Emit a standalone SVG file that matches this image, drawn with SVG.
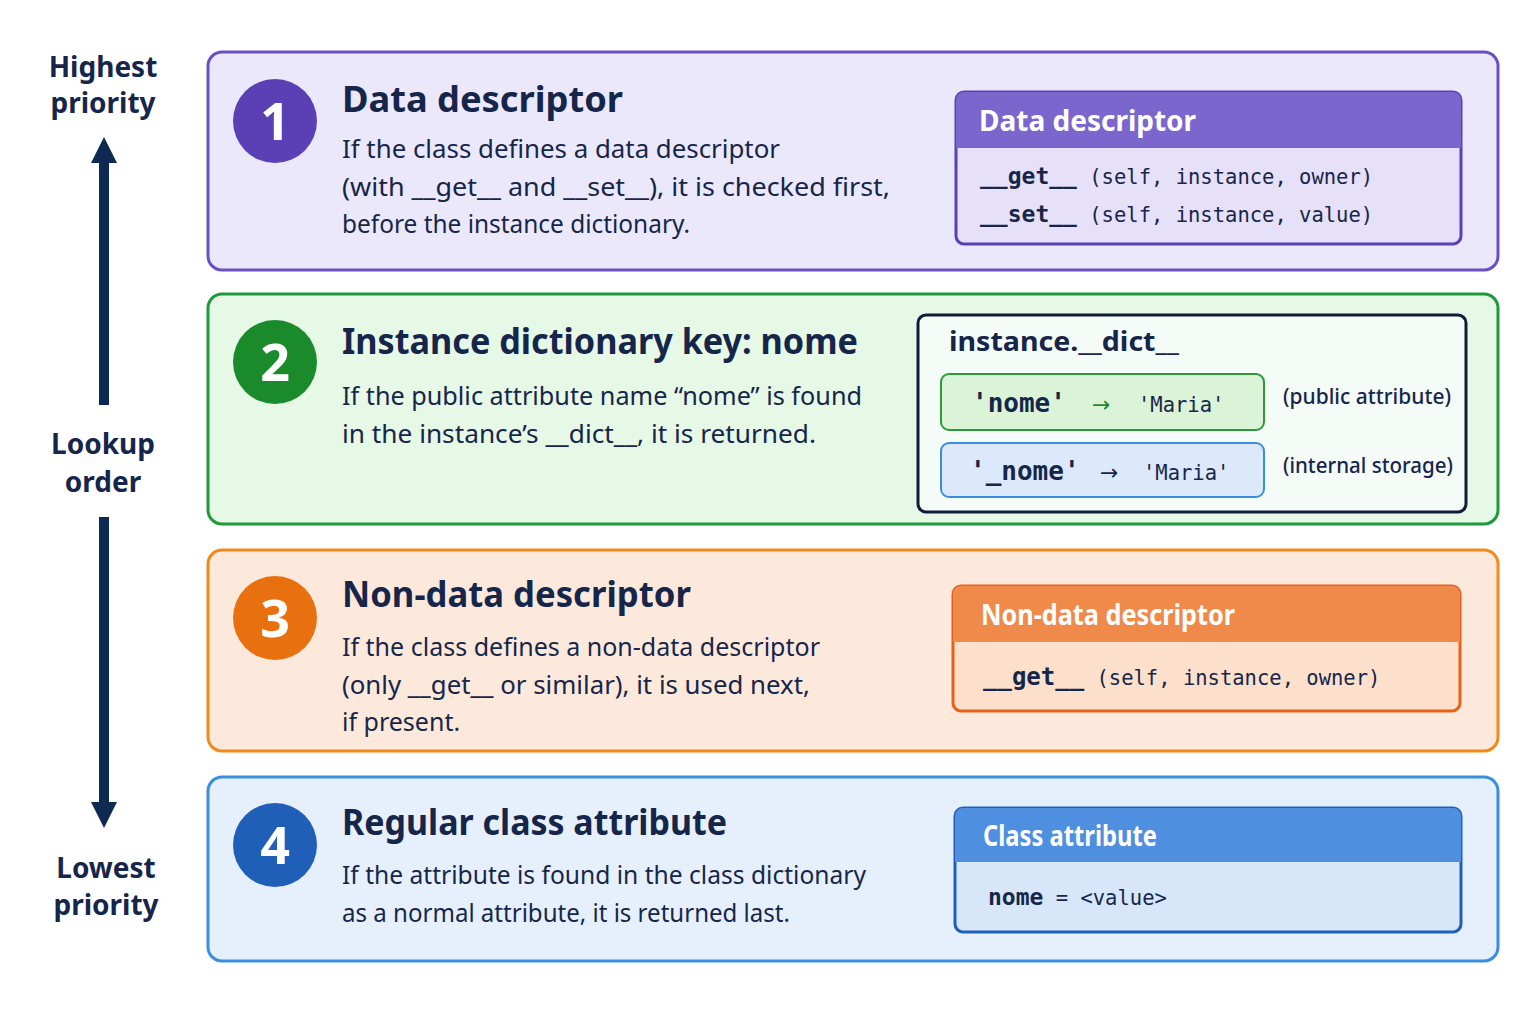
<svg xmlns="http://www.w3.org/2000/svg" width="1536" height="1024" viewBox="0 0 1536 1024">
<style>
text{font-family:"Noto Sans","Open Sans",sans-serif;fill:#16264a}
.t{font-size:36px;font-weight:700}
.b{font-size:25px}
.n{font-size:52px;font-weight:700;fill:#fff}
.h{font-size:28px;font-weight:700;fill:#fff}
.m{font-family:"DejaVu Sans Mono","Liberation Mono",monospace;font-size:20.5px}
.mb{font-family:"DejaVu Sans Mono","Liberation Mono",monospace;font-weight:700}
.ar{font-family:"DejaVu Sans",sans-serif;font-size:22px}
.l{font-size:28px;font-weight:700;text-anchor:middle}
</style>
<defs>
<marker id="ah" viewBox="0 0 10 10" refX="5" refY="5" markerWidth="2.6" markerHeight="2.6" orient="auto-start-reverse"><path d="M0,0L10,5L0,10z" fill="#0f2a52"/></marker>
</defs>
<rect width="1536" height="1024" fill="#fff"/>
<g id="axis">
<text class="l" x="103" y="77">Highest</text>
<text class="l" x="103" y="113">priority</text>
<text class="l" x="103" y="454">Lookup</text>
<text class="l" x="103" y="492">order</text>
<text class="l" x="106" y="878">Lowest</text>
<text class="l" x="106" y="915">priority</text>
</g>
<g id="connectors">
<line x1="104" y1="405" x2="104" y2="150" stroke="#0f2a52" stroke-width="10" marker-end="url(#ah)"/>
<line x1="104" y1="517" x2="104" y2="815" stroke="#0f2a52" stroke-width="10" marker-end="url(#ah)"/>
</g>
<g id="n1">
<rect x="208" y="52" width="1290" height="218" rx="14" fill="#ece8fb" stroke="#6a4fc0" stroke-width="3"/>
<circle cx="275" cy="121" r="42" fill="#5b3fb5"/>
<text class="n" x="275" y="140" text-anchor="middle">1</text>
<text class="t" x="342" y="112" textLength="281" lengthAdjust="spacingAndGlyphs">Data descriptor</text>
<text class="b" x="342" y="158" textLength="438" lengthAdjust="spacingAndGlyphs">If the class defines a data descriptor</text>
<text class="b" x="342" y="196" textLength="548" lengthAdjust="spacingAndGlyphs">(with __get__ and __set__), it is checked first,</text>
<text class="b" x="342" y="233" textLength="348" lengthAdjust="spacingAndGlyphs">before the instance dictionary.</text>
<rect x="956" y="92" width="505" height="152" rx="8" fill="#e6e0f8" stroke="#5b3fb5" stroke-width="3"/>
<path d="M956,148V100a8,8 0 0 1 8-8H1453a8,8 0 0 1 8,8V148z" fill="#7a66cc"/>
<text class="h" x="979" y="131">Data descriptor</text>
<text class="m" x="980" y="184"><tspan class="mb" font-size="23">__get__</tspan> (self, instance, owner)</text>
<text class="m" x="980" y="222"><tspan class="mb" font-size="23">__set__</tspan> (self, instance, value)</text>
</g>
<g id="n2">
<rect x="208" y="294" width="1290" height="230" rx="14" fill="#e6f8e6" stroke="#1f9a3a" stroke-width="3"/>
<circle cx="275" cy="362" r="42" fill="#1a8a2a"/>
<text class="n" x="275" y="381" text-anchor="middle">2</text>
<text class="t" x="342" y="354" textLength="516" lengthAdjust="spacingAndGlyphs">Instance dictionary key: nome</text>
<text class="b" x="342" y="405" textLength="520" lengthAdjust="spacingAndGlyphs">If the public attribute name “nome” is found</text>
<text class="b" x="342" y="443" textLength="474" lengthAdjust="spacingAndGlyphs">in the instance’s __dict__, it is returned.</text>
<rect x="918" y="315" width="548" height="197" rx="8" fill="#f5fbf7" stroke="#0f1d3a" stroke-width="3"/>
<text x="949" y="351" font-size="26" font-weight="700" textLength="230" lengthAdjust="spacingAndGlyphs">instance.__dict__</text>
<rect x="941" y="374" width="323" height="56" rx="8" fill="#dbf3d6" stroke="#2a9a3a" stroke-width="2"/>
<text class="m" x="972" y="412"><tspan class="mb" font-size="26">'nome'</tspan><tspan class="ar" x="1092" fill="#1f8a2a">→</tspan><tspan x="1138">'Maria'</tspan></text>
<text x="1283" y="404" font-size="21" font-weight="500" fill="#1a8a2a" textLength="168" lengthAdjust="spacingAndGlyphs">(public attribute)</text>
<rect x="941" y="443" width="323" height="54" rx="8" fill="#dce9fb" stroke="#3a8ee0" stroke-width="2"/>
<text class="m" x="970" y="480"><tspan class="mb" font-size="26">'_nome'</tspan><tspan class="ar" x="1100">→</tspan><tspan x="1143">'Maria'</tspan></text>
<text x="1283" y="473" font-size="21" font-weight="500" fill="#1a3ab0" textLength="170" lengthAdjust="spacingAndGlyphs">(internal storage)</text>
</g>
<g id="n3">
<rect x="208" y="550" width="1290" height="201" rx="14" fill="#fde9dc" stroke="#f08a1a" stroke-width="3"/>
<circle cx="275" cy="618" r="42" fill="#e8700f"/>
<text class="n" x="275" y="637" text-anchor="middle">3</text>
<text class="t" x="342" y="607" textLength="349" lengthAdjust="spacingAndGlyphs">Non-data descriptor</text>
<text class="b" x="342" y="656" textLength="478" lengthAdjust="spacingAndGlyphs">If the class defines a non-data descriptor</text>
<text class="b" x="342" y="694" textLength="468" lengthAdjust="spacingAndGlyphs">(only __get__ or similar), it is used next,</text>
<text class="b" x="342" y="731">if present.</text>
<rect x="953" y="586" width="507" height="125" rx="8" fill="#fde0cc" stroke="#e8601a" stroke-width="3"/>
<path d="M953,642V594a8,8 0 0 1 8-8H1452a8,8 0 0 1 8,8V642z" fill="#ef8a4a"/>
<text class="h" x="981" y="625" textLength="254" lengthAdjust="spacingAndGlyphs">Non-data descriptor</text>
<text class="m" x="983" y="685"><tspan class="mb" font-size="24">__get__</tspan> (self, instance, owner)</text>
</g>
<g id="n4">
<rect x="208" y="777" width="1290" height="184" rx="14" fill="#e6f0fc" stroke="#3a8ee0" stroke-width="3"/>
<circle cx="275" cy="845" r="42" fill="#1f5fb8"/>
<text class="n" x="275" y="864" text-anchor="middle">4</text>
<text class="t" x="342" y="835" textLength="385" lengthAdjust="spacingAndGlyphs">Regular class attribute</text>
<text class="b" x="342" y="884" textLength="524" lengthAdjust="spacingAndGlyphs">If the attribute is found in the class dictionary</text>
<text class="b" x="342" y="922" textLength="448" lengthAdjust="spacingAndGlyphs">as a normal attribute, it is returned last.</text>
<rect x="955" y="808" width="506" height="124" rx="8" fill="#d8e6fa" stroke="#1f5fb8" stroke-width="3"/>
<path d="M955,862V816a8,8 0 0 1 8-8H1453a8,8 0 0 1 8,8V862z" fill="#4f8fe0"/>
<text class="h" x="983" y="846" textLength="174" lengthAdjust="spacingAndGlyphs">Class attribute</text>
<text class="m" x="988" y="905"><tspan class="mb" font-size="23">nome</tspan> = &lt;value&gt;</text>
</g>
</svg>
